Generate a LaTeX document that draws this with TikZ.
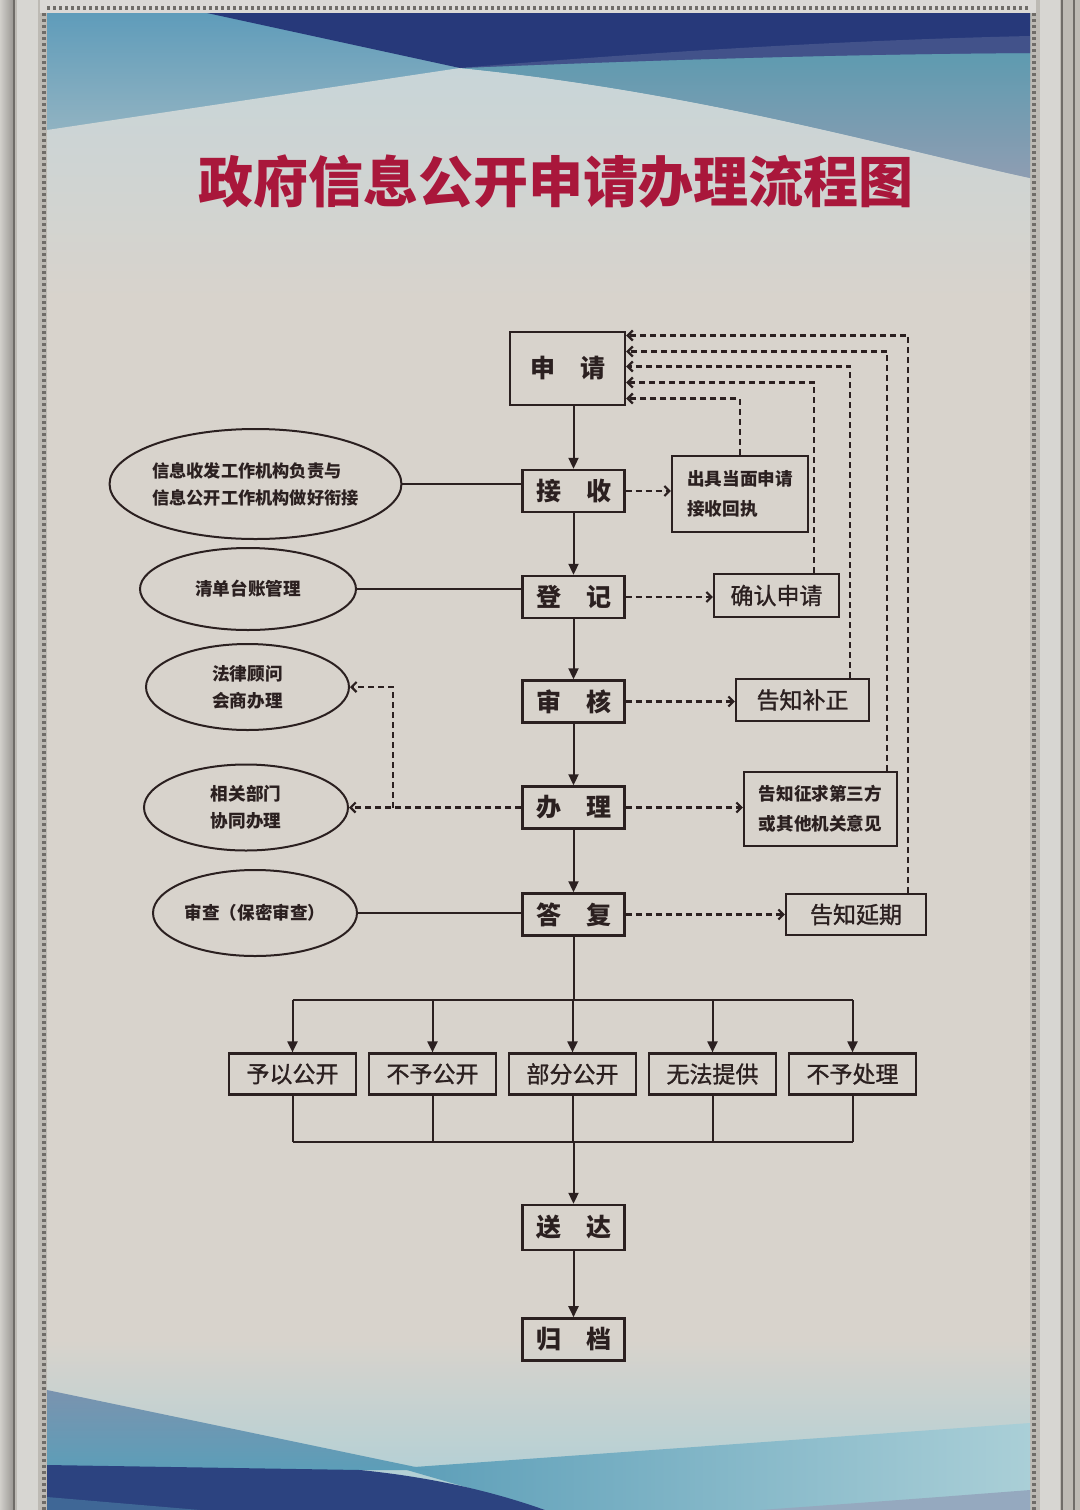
\documentclass[tikz,border=0pt]{standalone}
\usepackage{fontspec}
\newfontfamily\cjk{Noto Sans CJK SC}
\newfontfamily\cjkmid{Noto Sans CJK SC}[FakeBold=1.2]
\usetikzlibrary{positioning,shapes.geometric,arrows.meta,calc}

\definecolor{ink}{HTML}{2B2020}
\definecolor{titlered}{HTML}{A9173B}
\definecolor{paper}{HTML}{D8D3CC}
\definecolor{mist}{HTML}{C8D5D8}
\definecolor{skytop}{HTML}{5F9CBA}
\definecolor{navy}{HTML}{27397A}
\definecolor{steel}{HTML}{5E9BB0}
\definecolor{steellow}{HTML}{8E9DB2}
\definecolor{seateal}{HTML}{5C9EB8}
\definecolor{seafoam}{HTML}{AACFD7}
\definecolor{wedgeblue}{HTML}{7A93AF}
\definecolor{framegray}{HTML}{BDBAB4}
\definecolor{framedark}{HTML}{6F6C68}

\tikzset{
	mainbox/.style={draw=ink, line width=1.2pt, text=ink, inner sep=0pt,
		minimum width=51pt, minimum height=21pt,
		font=\cjk\bfseries\fontsize{12.5}{14}\selectfont},
	sidebox/.style={draw=ink, line width=1.1pt, text=ink, inner sep=0pt,
		minimum height=21pt, font=\cjkmid\fontsize{11.5}{14}\selectfont},
	notebox/.style={draw=ink, line width=1.1pt, text=ink, inner sep=0pt,
		minimum height=37pt, font=\cjk\bfseries\fontsize{8.8}{15}\selectfont},
	oval/.style={ellipse, draw=ink, line width=1pt, text=ink, inner sep=0pt,
		font=\cjk\bfseries\fontsize{8.8}{13.5}\selectfont},
	resbox/.style={draw=ink, line width=1.1pt, text=ink, inner sep=0pt,
		minimum width=63.4pt, minimum height=20.5pt,
		font=\cjkmid\fontsize{11.5}{14}\selectfont},
	flow/.style={draw=ink, line width=1pt, -{Triangle[length=5.5pt,width=5pt]}},
	link/.style={draw=ink, line width=1pt},
	fb/.style={draw=ink, line width=1.1pt, dash pattern=on 3pt off 2pt,
		-{Straight Barb[length=2.5pt,width=5pt]}},
	title/.style={text=titlered, font=\cjk\bfseries\fontsize{27.5}{30}\selectfont},
	bead/.style={draw=framedark, line width=2pt, dash pattern=on 1.5pt off 1.5pt}
}

\begin{document}
\begin{tikzpicture}[x=0.5pt,y=-0.5pt]
	\useasboundingbox (0,0) rectangle (1080,1510);

	% frame and poster
	\fill[framegray] (0,0) rectangle (1080,1510);
	\shade[left color=framegray!70!white, right color=framegray!80!black] (0,0) rectangle (14,1510);
	\draw[framedark, line width=1pt] (14,0) -- (14,1510);
	\fill[framegray!60!white] (17,0) rectangle (38,1510);
	\fill[framegray!60!white] (1040,0) rectangle (1060,1510);
	\draw[framedark, line width=1pt] (1062,0) -- (1062,1510);
	\draw[framedark, line width=0.6pt] (1074,0) -- (1074,1510);
	\fill[framegray!55!white] (40,0) rectangle (1036,13);
	\fill[paper] (47,13) rectangle (1030,1510);

	\shade[top color=skytop, bottom color=paper] (47,13) rectangle (1030,300);
	\shade[top color=mist, bottom color=paper] (47,130) -- (460,68) .. controls (700,92) and (900,150) .. (1030,178) -- (1030,300) -- (47,300) -- cycle;
	\shade[top color=steel, bottom color=steellow] (460,68) .. controls (650,60) and (850,54) .. (1030,53) -- (1030,178) .. controls (900,150) and (700,92) .. (460,68) -- cycle;
	\fill[navy] (207,13) -- (1030,13) -- (1030,53) .. controls (850,54) and (650,60) .. (460,68) -- cycle;
	\fill[navy!75!white, opacity=0.5] (1030,36) .. controls (850,40) and (650,52) .. (460,68) .. controls (650,60) and (850,54) .. (1030,53) -- cycle;

	\shade[top color=paper, bottom color=seafoam] (47,1340) rectangle (1030,1510);
	\shade[left color=seateal, right color=seafoam] (400,1468) -- (1030,1423) -- (1030,1510) -- (545,1510) -- cycle;
	\shade[top color=wedgeblue, bottom color=seateal] (47,1390) -- (430,1470) -- (47,1470) -- cycle;
	\fill[navy!90!seateal] (47,1465) -- (360,1470) .. controls (440,1478) and (500,1494) .. (545,1510) -- (47,1510) -- cycle;
	\fill[navy!55!seateal] (47,1497) -- (200,1510) -- (47,1510) -- cycle;
	\fill[wedgeblue!80!white] (760,1510) .. controls (900,1500) .. (1030,1490) -- (1030,1510) -- cycle;

	\draw[bead] (44,13) -- (44,1510);
	\draw[bead] (1034,13) -- (1034,1510);
	\draw[bead] (47,8) -- (1030,8);

	\node[title] (tt) at (556,181) {政府信息公开申请办理流程图};

	\node[mainbox, minimum width=57.5pt, minimum height=36.5pt] (sq) at (567.5,368.5) {申\quad 请};
	\node[mainbox] (js) at (573.5,491) {接\quad 收};
	\node[mainbox] (dj) at (573.5,597) {登\quad 记};
	\node[mainbox] (sh) at (573.5,701.5) {审\quad 核};
	\node[mainbox] (bl) at (573.5,807.5) {办\quad 理};
	\node[mainbox] (df) at (573.5,914.5) {答\quad 复};
	\node[mainbox, minimum height=22.5pt] (sd) at (573.5,1227.5) {送\quad 达};
	\node[mainbox, below=33pt of sd] (gd) {归\quad 档};

	\node[notebox, minimum width=68pt, minimum height=38pt, text width=52.8pt, align=left] (hz) at (740,494) {出具当面申请\\接收回执};
	\node[sidebox, minimum width=62.5pt, minimum height=21.5pt] (qr) at (776.5,595.5) {确认申请};
	\node[sidebox, minimum width=66.5pt] (bz) at (802.5,700) {告知补正};
	\node[notebox, minimum width=76.5pt, align=center] (zq) at (820.5,809) {告知征求第三方\\或其他机关意见};
	\node[sidebox, minimum width=70pt, minimum height=20.5pt] (yq) at (856,914.5) {告知延期};

	\node[oval, minimum width=142.5pt, minimum height=55pt, align=left, font=\cjk\bfseries\fontsize{8.6}{13.5}\selectfont] (sf) at (255.5,484) {信息收发工作机构负责与\\信息公开工作机构做好衔接};
	\node[oval, minimum width=108pt, minimum height=41pt] (qd) at (248,589) {清单台账管理};
	\node[oval, minimum width=101.5pt, minimum height=43pt, align=center] (fl) at (247.5,687) {法律顾问\\会商办理};
	\node[oval, minimum width=102pt, minimum height=43pt, align=center] (xt) at (246,807.5) {相关部门\\协同办理};
	\node[oval, minimum width=102pt, minimum height=43pt] (bm) at (255,913) {审查（保密审查）};

	\node[resbox] (bf) at (572.5,1074) {部分公开};
	\node[resbox, left=5.5pt of bf] (bg) {不予公开};
	\node[resbox, left=5.5pt of bg] (gk) {予以公开};
	\node[resbox, right=5.5pt of bf] (wf) {无法提供};
	\node[resbox, right=5.5pt of wf] (bc) {不予处理};

	\coordinate (br) at (393,807.5);
	\coordinate (fork) at (573.5,1000);
	\coordinate (join) at (573.5,1142);

	\draw[flow] (sq.south -| js.north) -- (js.north);
	\draw[flow] (js) -- (dj);
	\draw[flow] (dj) -- (sh);
	\draw[flow] (sh) -- (bl);
	\draw[flow] (bl) -- (df);

	\draw[link] (sf.east) -- (sf.east -| js.west);
	\draw[link] (qd.east) -- (qd.east -| dj.west);
	\draw[link] (bm.east) -- (bm.east -| df.west);

	\draw[fb] (bl.west) -- (xt.east);
	\draw[fb] (br) |- (fl.east);

	\draw[fb] (js.east) -- (js.east -| hz.west);
	\draw[fb] (dj.east) -- (dj.east -| qr.west);
	\draw[fb] (sh.east) -- (sh.east -| bz.west);
	\draw[fb] (bl.east) -- (bl.east -| zq.west);
	\draw[fb] (df.east) -- (df.east -| yq.west);

	\draw[fb] (hz.north) |- ($(sq.east)+(0,30)$);
	\draw[fb] ($(qr.north east)+(-26,0)$) |- ($(sq.east)+(0,14)$);
	\draw[fb] ($(bz.north east)+(-20,0)$) |- ($(sq.east)+(0,-2)$);
	\draw[fb] ($(zq.north east)+(-11,0)$) |- ($(sq.east)+(0,-17)$);
	\draw[fb] ($(yq.north east)+(-19,0)$) |- ($(sq.east)+(0,-33)$);

	\draw[link] (df) -- (fork);
	\draw[link] (gk.north |- fork) -- (bc.north |- fork);
	\draw[link] (gk.south |- join) -- (bc.south |- join);
	\foreach \r in {gk,bg,bf,wf,bc} {
		\draw[flow] (\r.north |- fork) -- (\r.north);
		\draw[link] (\r.south) -- (\r.south |- join);
	}
	\draw[flow] (join) -- (sd);
	\draw[flow] (sd) -- (gd);
\end{tikzpicture}
\end{document}
